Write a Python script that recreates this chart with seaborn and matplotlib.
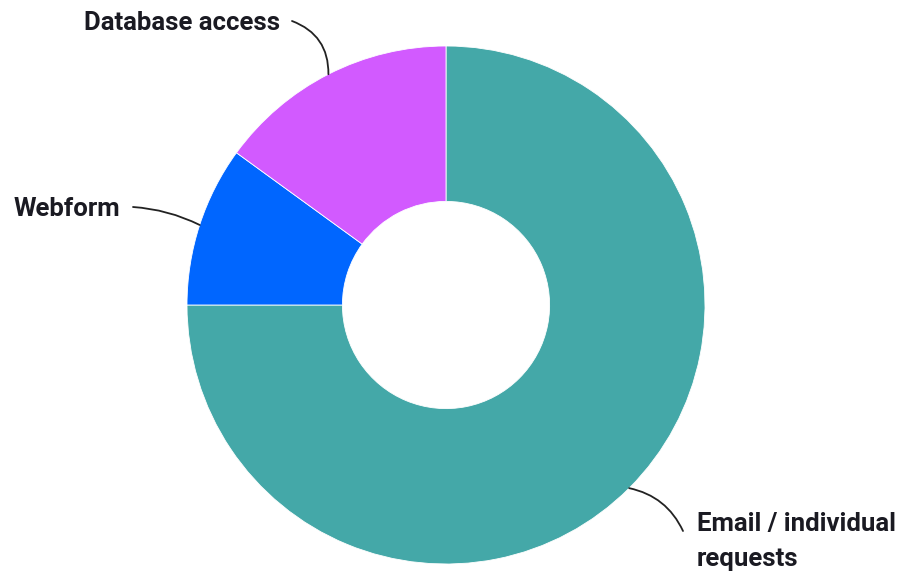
import numpy as np
import matplotlib
matplotlib.use("Agg")
import matplotlib.pyplot as plt
import seaborn as sns

# ------------------------------------
# Data
# ------------------------------------

categories = ["Email / individual\nrequests", "Webform", "Database access"]
shares = [75, 10, 15]
colors = ["#44A8A8", "#0066FF", "#D25AFF"]

# label baseline (last line) position (pixels, y down) and leader line end
label_pos = [(697, 566), (14, 216), (280, 30)]
label_ha = ["left", "left", "right"]
line_end = [(683, 531), (133, 207), (292, 21)]
line_rad = [0.25, -0.1, -0.35]

sns.set_theme(style="white")
plt.rcParams["font.family"] = ["Roboto", "DejaVu Sans"]

W, H = 910, 576
fig = plt.figure(figsize=(W / 100, H / 100), dpi=100)
ax = fig.add_axes([0, 0, 1, 1])

cx, cy, r = 446, H - 305, 259

wedges, _ = ax.pie(
    shares,
    colors=colors,
    startangle=90,
    counterclock=False,
    radius=r,
    center=(cx, cy),
    wedgeprops=dict(width=r * 0.6, edgecolor="white", linewidth=0.6),
    frame=True,
)
ax.set_xlim(0, W)
ax.set_ylim(0, H)
ax.axis("off")

for i, w in enumerate(wedges):
    mid = np.deg2rad((w.theta1 + w.theta2) / 2)
    anchor = (cx + r * np.cos(mid), cy + r * np.sin(mid))
    ex, ey = line_end[i]
    ax.annotate(
        "",
        xy=anchor,
        xytext=(ex, H - ey),
        arrowprops=dict(
            arrowstyle="-",
            color="#222222",
            lw=1.3,
            shrinkA=0,
            shrinkB=0,
            connectionstyle=f"arc3,rad={line_rad[i]}",
        ),
    )
    lx, ly = label_pos[i]
    ax.text(
        lx, H - ly,
        categories[i],
        ha=label_ha[i],
        va="baseline",
        fontsize=18.5,
        fontweight="bold",
        color="#1a1a22",
        linespacing=1.6,
    )

fig.savefig("out.png", dpi=100)
